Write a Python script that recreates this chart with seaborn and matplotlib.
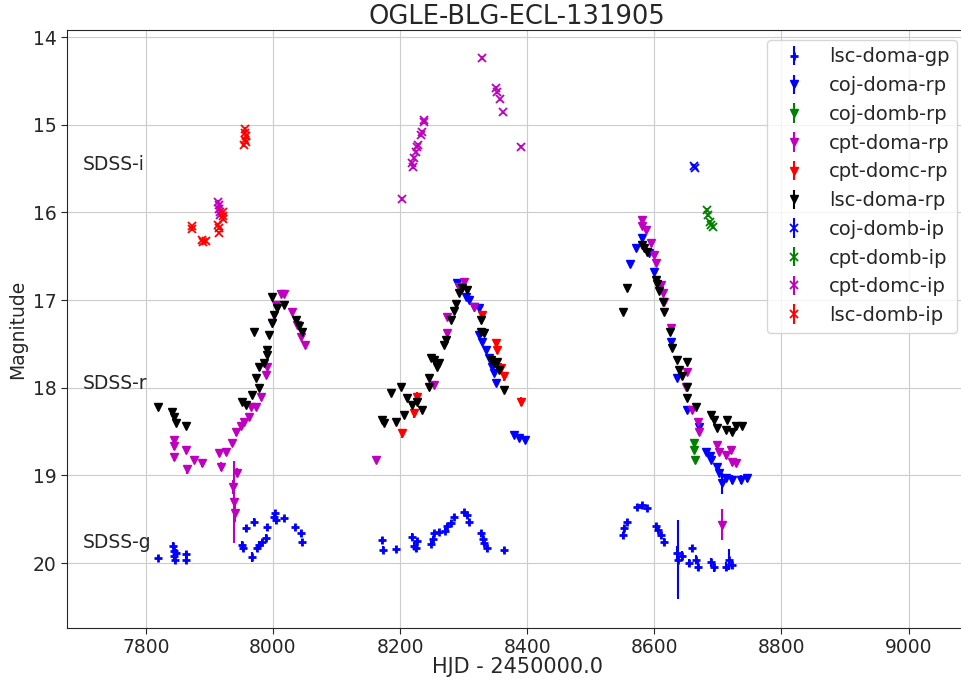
import matplotlib
matplotlib.use("Agg")
import matplotlib.pyplot as plt
import seaborn as sns

# lsc-doma-gp  (SDSS-g)
g_hjd = [7819, 7843, 7844, 7845, 7846, 7848, 7863, 7864, 7951, 7953,
         7957, 7967, 7970, 7975, 7978, 7983, 7989, 7990, 8001, 8003,
         8005, 8017, 8035, 8044, 8046,
         8172, 8173, 8194, 8219, 8222, 8225, 8227, 8249, 8252, 8254,
         8261, 8270, 8274, 8280, 8285, 8301, 8306, 8309, 8327, 8330,
         8332, 8337, 8364,
         8550, 8553, 8557, 8573, 8581, 8589, 8603, 8606, 8610, 8616,
         8636, 8637, 8643, 8655, 8660, 8666, 8668, 8690, 8694, 8713,
         8718, 8723]
g_mag = [19.94, 19.80, 19.86, 19.92, 19.97, 19.88, 19.90, 19.97, 19.79, 19.83,
         19.60, 19.93, 19.53, 19.83, 19.79, 19.76, 19.71, 19.59, 19.47, 19.43,
         19.51, 19.49, 19.59, 19.66, 19.76,
         19.74, 19.85, 19.84, 19.70, 19.80, 19.83, 19.75, 19.78, 19.72, 19.66,
         19.64, 19.63, 19.58, 19.54, 19.47, 19.42, 19.45, 19.53, 19.66, 19.72,
         19.77, 19.83, 19.85,
         19.68, 19.60, 19.53, 19.36, 19.34, 19.37, 19.58, 19.62, 19.68, 19.76,
         19.88, 19.96, 19.92, 20.00, 19.83, 19.96, 20.04, 19.99, 20.05, 20.04,
         19.96, 20.02]
g_err = [0.03, 0.04, 0.04, 0.04, 0.04, 0.04, 0.04, 0.04, 0.04, 0.03,
         0.04, 0.06, 0.04, 0.04, 0.04, 0.04, 0.04, 0.04, 0.04, 0.04,
         0.04, 0.03, 0.03, 0.04, 0.04,
         0.04, 0.04, 0.03, 0.04, 0.04, 0.04, 0.04, 0.03, 0.03, 0.03,
         0.03, 0.03, 0.03, 0.03, 0.03, 0.03, 0.03, 0.03, 0.04, 0.04,
         0.04, 0.04, 0.03,
         0.04, 0.04, 0.03, 0.03, 0.03, 0.03, 0.04, 0.04, 0.04, 0.05,
         0.08, 0.45, 0.06, 0.05, 0.04, 0.05, 0.05, 0.05, 0.05, 0.05,
         0.12, 0.05]

# coj-doma-rp
coj_a_r_hjd = [8290, 8304, 8309, 8317, 8324, 8324, 8329, 8335, 8340, 8345,
               8348, 8351, 8380, 8387, 8397,
               8562, 8572, 8581, 8592, 8600, 8627, 8636, 8652, 8671, 8682,
               8687, 8690, 8698, 8702, 8707, 8713, 8723, 8737, 8746]
coj_a_r_mag = [16.81, 16.96, 17.00, 17.08, 17.09, 17.40, 17.48, 17.57, 17.66, 17.76,
               17.83, 17.95, 18.54, 18.57, 18.60,
               16.59, 16.41, 16.29, 16.46, 16.68, 17.48, 17.89, 18.25, 18.45, 18.73,
               18.78, 18.82, 18.90, 18.97, 19.09, 19.03, 19.05, 19.05, 19.03]
coj_a_r_err = [0.02, 0.02, 0.02, 0.02, 0.02, 0.02, 0.02, 0.02, 0.02, 0.02,
               0.03, 0.03, 0.03, 0.03, 0.03,
               0.02, 0.02, 0.02, 0.02, 0.02, 0.02, 0.02, 0.03, 0.03, 0.04,
               0.04, 0.04, 0.04, 0.05, 0.12, 0.05, 0.05, 0.05, 0.05]

# coj-domb-rp
coj_b_r_hjd = [8663, 8663, 8664]
coj_b_r_mag = [18.63, 18.71, 18.82]
coj_b_r_err = [0.03, 0.03, 0.03]

# cpt-doma-rp
cpt_a_r_hjd = [7844, 7844, 7845, 7863, 7865, 7876, 7888, 7918, 7915, 7926,
               7935, 7937, 7939, 7940, 7943, 7942, 7950, 7954, 7962, 7965,
               7973, 7981, 7989, 7990, 7998, 8005, 8013, 8017, 8030, 8038,
               8044, 8050,
               8162, 8254, 8274, 8274, 8293, 8301, 8317,
               8580, 8581, 8587, 8595, 8600, 8603, 8611, 8613, 8616, 8627,
               8650, 8652, 8660, 8668, 8671, 8698, 8702, 8707, 8713, 8721,
               8723, 8729]
cpt_a_r_mag = [18.60, 18.67, 18.79, 18.71, 18.93, 18.82, 18.86, 18.90, 18.74, 18.73,
               18.63, 19.13, 19.30, 19.43, 18.97, 18.51, 18.44, 18.39, 18.33, 18.22,
               18.22, 18.10, 17.85, 17.76, 17.26, 17.06, 16.93, 16.93, 17.14, 17.28,
               17.42, 17.51,
               18.82, 17.97, 17.19, 17.38, 16.85, 16.79, 17.08,
               16.09, 16.15, 16.20, 16.35, 16.49, 16.58, 16.83, 16.92, 17.02, 17.32,
               17.99, 17.82, 18.25, 18.39, 18.51, 18.65, 18.73, 19.56, 18.77, 18.71,
               18.85, 18.86]
cpt_a_r_err = [0.04, 0.04, 0.04, 0.04, 0.05, 0.04, 0.04, 0.05, 0.04, 0.04,
               0.04, 0.08, 0.47, 0.10, 0.05, 0.04, 0.04, 0.04, 0.03, 0.03,
               0.03, 0.03, 0.03, 0.03, 0.02, 0.02, 0.02, 0.02, 0.02, 0.02,
               0.02, 0.03,
               0.04, 0.03, 0.02, 0.02, 0.02, 0.02, 0.02,
               0.02, 0.02, 0.02, 0.02, 0.02, 0.02, 0.02, 0.02, 0.02, 0.02,
               0.03, 0.03, 0.03, 0.03, 0.03, 0.04, 0.04, 0.18, 0.04, 0.04,
               0.04, 0.04]

# cpt-domc-rp
cpt_c_r_hjd = [8203, 8222, 8227, 8329, 8351, 8352, 8359, 8364, 8391]
cpt_c_r_mag = [18.52, 18.29, 18.10, 17.17, 17.49, 17.57, 17.77, 17.87, 18.16]
cpt_c_r_err = [0.05, 0.05, 0.05, 0.04, 0.05, 0.05, 0.05, 0.05, 0.05]

# lsc-doma-rp
lsc_a_r_hjd = [7819, 7841, 7844, 7847, 7863, 7951, 7957, 7967, 7970, 7973,
               7978, 7978, 7986, 7990, 7990, 7994, 7998, 7998, 8002, 8006,
               8017, 8036, 8041, 8046,
               8172, 8175, 8186, 8194, 8202, 8206, 8211, 8219, 8227, 8235,
               8246, 8246, 8249, 8254, 8258, 8261, 8269, 8272, 8280, 8285,
               8288, 8293, 8298, 8306, 8327, 8327, 8332, 8343, 8348, 8353,
               8356, 8364,
               8550, 8557, 8581, 8584, 8589, 8603, 8605, 8608, 8613, 8616,
               8624, 8628, 8635, 8639, 8644, 8652, 8652, 8652, 8666, 8690,
               8694, 8698, 8713, 8715, 8723, 8729, 8738]
lsc_a_r_mag = [18.22, 18.28, 18.33, 18.40, 18.44, 18.16, 18.20, 18.08, 17.36, 17.89,
               18.00, 17.76, 17.72, 17.63, 17.57, 17.40, 17.26, 16.96, 17.17, 17.09,
               17.06, 17.23, 17.30, 17.36,
               18.37, 18.40, 18.06, 18.39, 17.99, 18.31, 18.12, 18.20, 18.16, 18.25,
               17.99, 17.89, 17.66, 17.68, 17.76, 17.72, 17.51, 17.45, 17.23, 17.12,
               17.04, 16.92, 16.86, 16.88, 17.23, 17.36, 17.38, 17.68, 17.72, 17.71,
               17.80, 18.03,
               17.14, 16.86, 16.37, 16.41, 16.45, 16.77, 16.82, 16.90, 17.02, 17.14,
               17.36, 17.55, 17.68, 17.80, 17.87, 17.71, 17.99, 18.12, 18.22, 18.31,
               18.37, 18.46, 18.48, 18.37, 18.50, 18.44, 18.44]
lsc_a_r_err = [0.03, 0.03, 0.03, 0.03, 0.03, 0.03, 0.03, 0.03, 0.03, 0.03,
               0.03, 0.03, 0.03, 0.03, 0.03, 0.02, 0.02, 0.02, 0.02, 0.02,
               0.02, 0.02, 0.02, 0.02,
               0.03, 0.03, 0.03, 0.03, 0.03, 0.03, 0.03, 0.03, 0.03, 0.03,
               0.03, 0.03, 0.02, 0.02, 0.02, 0.02, 0.02, 0.02, 0.02, 0.02,
               0.02, 0.02, 0.02, 0.02, 0.02, 0.02, 0.02, 0.02, 0.02, 0.02,
               0.02, 0.03,
               0.03, 0.02, 0.02, 0.02, 0.02, 0.02, 0.02, 0.02, 0.02, 0.02,
               0.02, 0.02, 0.02, 0.02, 0.02, 0.02, 0.02, 0.03, 0.03, 0.03,
               0.03, 0.03, 0.03, 0.03, 0.03, 0.03, 0.03]

# coj-domb-ip
coj_b_i_hjd = [8663, 8664]
coj_b_i_mag = [15.47, 15.49]
coj_b_i_err = [0.02, 0.02]

# cpt-domb-ip
cpt_b_i_hjd = [8683, 8685, 8688, 8690, 8692]
cpt_b_i_mag = [15.97, 16.03, 16.11, 16.14, 16.17]
cpt_b_i_err = [0.02, 0.02, 0.02, 0.02, 0.02]

# cpt-domc-ip
cpt_c_i_hjd = [7914, 7915, 7915, 7916, 7917,
               8203, 8219, 8220, 8222, 8225, 8227, 8228, 8233, 8235, 8238,
               8237, 8329, 8351, 8352, 8357, 8362, 8391]
cpt_c_i_mag = [15.88, 15.92, 15.96, 16.00, 16.03,
               15.85, 15.44, 15.48, 15.38, 15.31, 15.25, 15.23, 15.12, 15.08, 14.97,
               14.95, 14.24, 14.58, 14.63, 14.71, 14.86, 15.25]
cpt_c_i_err = [0.02, 0.02, 0.02, 0.02, 0.02,
               0.02, 0.02, 0.02, 0.02, 0.02, 0.02, 0.02, 0.02, 0.02, 0.02,
               0.02, 0.02, 0.02, 0.02, 0.02, 0.02, 0.02]

# lsc-domb-ip
lsc_b_i_hjd = [7872, 7872, 7888, 7890, 7894, 7914, 7915, 7915, 7921, 7922,
               7922, 7956, 7956, 7957, 7956, 7957, 7955]
lsc_b_i_mag = [16.16, 16.19, 16.32, 16.34, 16.33, 16.14, 16.18, 16.23, 16.00, 16.04,
               16.08, 15.05, 15.09, 15.13, 15.17, 15.20, 15.23]
lsc_b_i_err = [0.02, 0.02, 0.02, 0.02, 0.02, 0.02, 0.02, 0.02, 0.02, 0.02,
               0.02, 0.02, 0.02, 0.02, 0.02, 0.02, 0.02]

band_names = ["SDSS-i", "SDSS-r", "SDSS-g"]
band_label_mag = [15.45, 17.95, 19.77]

series = [
    ("lsc-doma-gp", g_hjd, g_mag, g_err, "b", "+"),
    ("coj-doma-rp", coj_a_r_hjd, coj_a_r_mag, coj_a_r_err, "b", "v"),
    ("coj-domb-rp", coj_b_r_hjd, coj_b_r_mag, coj_b_r_err, "g", "v"),
    ("cpt-doma-rp", cpt_a_r_hjd, cpt_a_r_mag, cpt_a_r_err, "m", "v"),
    ("cpt-domc-rp", cpt_c_r_hjd, cpt_c_r_mag, cpt_c_r_err, "r", "v"),
    ("lsc-doma-rp", lsc_a_r_hjd, lsc_a_r_mag, lsc_a_r_err, "k", "v"),
    ("coj-domb-ip", coj_b_i_hjd, coj_b_i_mag, coj_b_i_err, "b", "x"),
    ("cpt-domb-ip", cpt_b_i_hjd, cpt_b_i_mag, cpt_b_i_err, "g", "x"),
    ("cpt-domc-ip", cpt_c_i_hjd, cpt_c_i_mag, cpt_c_i_err, "m", "x"),
    ("lsc-domb-ip", lsc_b_i_hjd, lsc_b_i_mag, lsc_b_i_err, "r", "x"),
]
marker_size = {"+": 6, "v": 5.5, "x": 6}
marker_edge = {"+": 2, "v": 1, "x": 1.3}

sns.set_style("whitegrid", {"axes.edgecolor": "0.15", "grid.color": "0.8",
                            "xtick.bottom": True, "ytick.left": True})
plt.rcParams["font.family"] = ["DejaVu Sans"]
plt.rcParams["xtick.major.size"] = 4
plt.rcParams["ytick.major.size"] = 4

fig = plt.figure(figsize=(9.61, 6.78), dpi=100)
ax = fig.add_axes([67 / 961, 1 - 628 / 678, (967 - 67) / 961, (628 - 30) / 678])

for name, x, y, e, c, m in series:
    ax.errorbar(x, y, yerr=e, fmt=m, color=c, ms=marker_size[m],
                mew=marker_edge[m], elinewidth=1.5, label=name)

for txt, mag in zip(band_names, band_label_mag):
    ax.text(7700, mag, txt, fontsize=13.5, va="center", ha="left")

ax.set_xlim(7676, 9092)
ax.set_ylim(20.74, 13.92)
ax.set_xticks([7800, 8000, 8200, 8400, 8600, 8800, 9000])
ax.tick_params(labelsize=13.5, colors="0.15")
ax.set_xlabel("HJD - 2450000.0", fontsize=15, labelpad=0)
ax.set_ylabel("Magnitude", fontsize=13.5, labelpad=4)
ax.set_title("OGLE-BLG-ECL-131905", fontsize=18.5, pad=4)
ax.legend(loc="upper right", fontsize=14, labelspacing=0.5, borderaxespad=0.5)

fig.savefig("out.png", dpi=100)
